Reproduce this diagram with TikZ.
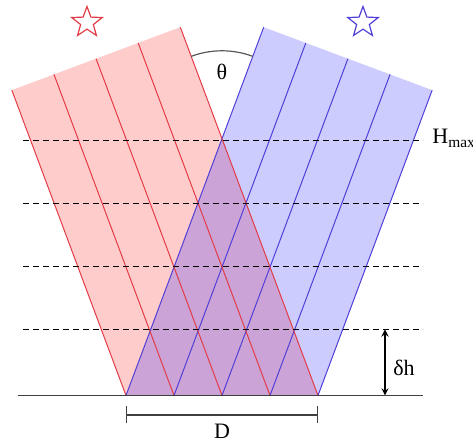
\documentclass[tikz,border=0pt]{standalone}
\usepackage{fontspec}
\setmainfont{Liberation Serif}
\usetikzlibrary{shapes.geometric,arrows.meta}

\definecolor{beamred}{RGB}{226,60,70}
\definecolor{beamblue}{RGB}{80,64,214}

\begin{document}
\begin{tikzpicture}[>=stealth, x=0.5pt, y=0.5pt, font=\fontsize{11}{13}\selectfont]
  \tikzset{ray/.style={line width=0.5pt},
    level/.style={dash pattern=on 3pt off 2pt, line width=0.5pt},
    src/.style={star, star points=5, star point ratio=2.4, minimum size=16pt, inner sep=0pt, line width=0.6pt}}
  \useasboundingbox (-222,-46.5) rectangle (251,395.5);
  % corners of the two beams
  \path (96,0) ++(110.5:393.2) coordinate (redtr);
  \path (-96,0) ++(110.5:326) coordinate (redtl);
  \path (-96,0) ++(69.5:393.2) coordinate (bluetl);
  \path (96,0) ++(69.5:326) coordinate (bluetr);
  \fill[red, fill opacity=0.2] (-96,0) -- (96,0) -- (redtr) -- (redtl) -- cycle;
  \fill[blue, fill opacity=0.2] (96,0) -- (-96,0) -- (bluetl) -- (bluetr) -- cycle;
  \foreach \x in {-96,-48,0,48,96} {
    \draw[ray, beamred] (\x,0) -- ++(110.5:{326+0.35*(\x+96)});
    \draw[ray, beamblue] (\x,0) -- ++(69.5:{326+0.35*(96-\x)});
  }
  % height levels
  \foreach \h in {66,129,192,255}
    \draw[level] (-199,\h) -- (201,\h);
  \node[anchor=west, inner sep=1pt] (hmax) at (208,257) {H\textsubscript{max}};
  % ground
  \draw[line width=0.7pt, black!75] (-204,0) -- (201,0);
  % sources
  \node[src, draw=beamred] (sred) at (-135,373) {};
  \node[src, draw=beamblue] (sblue) at (141,373) {};
  % angle
  \coordinate (apex) at (0,256.7);
  \draw[line width=0.6pt, black!65] (apex) ++(69.5:88) arc[start angle=69.5, end angle=110.5, radius=44pt];
  \node (theta) at (0,324) {θ};
  % delta h
  \coordinate (dtop) at (163,66);
  \coordinate (dbot) at (163,0);
  \draw[<->, line width=0.6pt] (dtop) -- (dbot);
  \node (dh) at (182,28) {δh};
  % width D
  \coordinate (dl) at (-96,-19.5);
  \coordinate (dr) at (96,-19.5);
  \draw[{Bar[width=8.5pt]}-{Bar[width=8.5pt]}, line width=0.6pt, black!75] (dl) -- (dr);
  \node (dw) at (0,-36) {D};
\end{tikzpicture}
\end{document}
